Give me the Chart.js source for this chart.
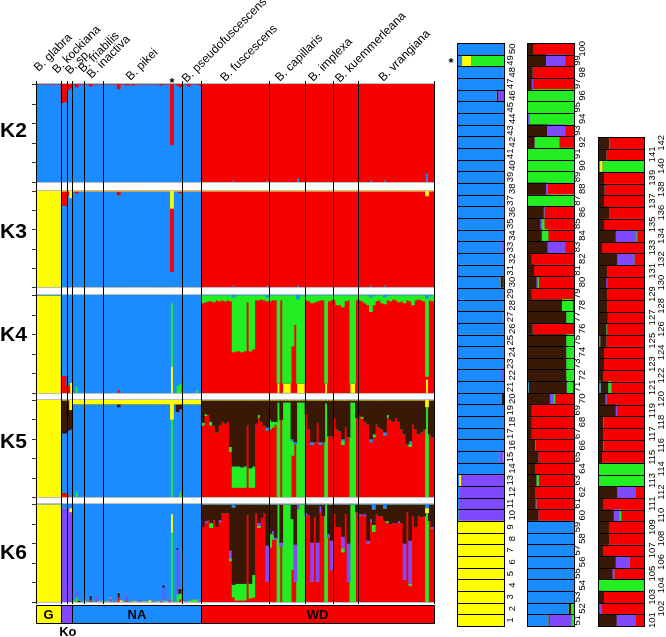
<!DOCTYPE html>
<html>
<head>
<meta charset="utf-8">
<title>STRUCTURE plot K2-K6</title>
<script src="https://cdn.jsdelivr.net/npm/chart.js@4.4.1/dist/chart.umd.min.js"></script>
<style>
html,body{margin:0;padding:0;background:#fff;}
body{width:666px;height:637px;position:relative;overflow:hidden;}
canvas{position:absolute;}
</style>
</head>
<body>
<canvas id="cK2" width="440" height="186" style="left:0;top:0"></canvas>
<canvas id="cK3" width="440" height="105" style="left:0;top:186px"></canvas>
<canvas id="cK4" width="440" height="105" style="left:0;top:291px"></canvas>
<canvas id="cK5" width="440" height="104" style="left:0;top:396px"></canvas>
<canvas id="cK6" width="440" height="104" style="left:0;top:500px"></canvas>
<canvas id="cG" width="440" height="33" style="left:0;top:604px"></canvas>
<canvas id="cR1" width="87" height="637" style="left:440px;top:0"></canvas>
<canvas id="cR2" width="76" height="637" style="left:520px;top:0"></canvas>
<canvas id="cR3" width="76" height="637" style="left:590px;top:0"></canvas>
<script>
// ---------------- DATA ----------------
const speciesNames = ['B. glabra','B. kockiana','B. sp.','B. friabilis','B. inactiva','B. pikei','B. pseudofuscescens','B. fuscescens','B. capillaris','B. implexa','B. kuemmerleana','B. vrangiana'];
const speciesSizes = [9,2,2,4,7,28,7,24,13,10,9,27];
const regionNames = ['G','Ko','NA','WD'];
const regionSizes = [9,4,46,83];
const individuals = [];
for (let i = 1; i <= 142; i++) individuals.push(String(i));

// K2 (top -> bottom: red, blue)
const k2Red = [
 0,0,0,0,0,0,0,0,0,
 .19,.18,.06,.04,
 0,.03,0,0,0,0,.02,0,0,0,0,
 0,0,0,0,0,.05,0,0,.01,0,.01,0,0,0,0,0,0,0,0,0,.01,0,0,0,.62,0,.01,.03,
 0,0,.02,0,0,0,.01,
 1,1,1,1,1,1,1,1,1,1,1,.98,1,1,1,1,1,1,1,1,1,1,1,.98,
 1,1,1,1,1,1,1,1,1,1,.96,1,1,
 1,1,1,1,1,1,1,.99,1,1,
 1,1,1,1,1,1,1,1,1,
 1,1,1,1,.98,1,1,1,1,.98,1,1,1,1,1,1,1,1,1,1,1,1,1,1,.91,1,1
];
const k2Blue = [
 1,1,1,1,1,1,1,1,1,
 .81,.82,.94,.96,
 1,.97,1,1,1,1,.98,1,1,1,1,
 1,1,1,1,1,.95,1,1,.99,1,.99,1,1,1,1,1,1,1,1,1,.99,1,1,1,.38,1,.99,.97,
 1,1,.98,1,1,1,.99,
 0,0,0,0,0,0,0,0,0,0,0,.02,0,0,0,0,0,0,0,0,0,0,0,.02,
 0,0,0,0,0,0,0,0,0,0,.04,0,0,
 0,0,0,0,0,0,0,.01,0,0,
 0,0,0,0,0,0,0,0,0,
 0,0,0,0,.02,0,0,0,0,.02,0,0,0,0,0,0,0,0,0,0,0,0,0,0,.09,0,0
];

// K3 (yellow, red, blue)
const k3Yellow = [
 1,1,1,1,1,1,1,1,1,
 0,0,0,.07,
 0,0,0,0,0,0,0,0,0,0,0,
 0,0,0,0,0,0,0,0,0,0,0,0,0,0,0,0,0,0,0,0,0,0,0,0,.18,0,0,0,
 0,0,0,0,0,0,0,
 0,0,0,0,0,0,0,0,0,0,0,0,0,0,0,0,0,0,0,0,0,0,0,0,
 0,0,0,0,0,0,0,0,0,0,0,0,0,
 0,0,0,0,0,0,0,0,0,0,
 0,0,0,0,0,0,0,0,0,
 0,0,0,0,0,0,0,0,0,0,0,0,0,0,0,0,0,0,0,0,0,0,0,0,.05,0,0
];
const k3Red = [
 0,0,0,0,0,0,0,0,0,
 .15,.15,.04,0,
 0,.02,0,0,0,0,0,0,0,0,0,
 0,0,0,0,0,.04,0,0,0,0,0,0,0,0,0,0,0,0,0,0,0,0,0,0,.66,0,0,.02,
 0,0,0,0,0,0,0,
 1,1,1,1,1,1,1,1,1,1,1,.98,1,1,1,1,1,1,1,1,1,1,1,.98,
 1,1,1,1,1,1,1,1,1,1,.98,1,1,
 1,1,1,1,1,1,1,1,1,1,
 1,1,1,1,1,1,1,1,1,
 1,1,1,1,.98,1,1,1,1,.98,1,1,1,1,1,1,1,1,1,1,1,1,1,1,.95,1,1
];
const k3Blue = [
 0,0,0,0,0,0,0,0,0,
 .85,.85,.96,.93,
 1,.98,1,1,1,1,1,1,1,1,1,
 1,1,1,1,1,.96,1,1,1,1,1,1,1,1,1,1,1,1,1,1,1,1,1,1,.16,1,1,.98,
 1,1,1,1,1,1,1,
 0,0,0,0,0,0,0,0,0,0,0,.02,0,0,0,0,0,0,0,0,0,0,0,.02,
 0,0,0,0,0,0,0,0,0,0,.02,0,0,
 0,0,0,0,0,0,0,0,0,0,
 0,0,0,0,0,0,0,0,0,
 0,0,0,0,.02,0,0,0,0,.02,0,0,0,0,0,0,0,0,0,0,0,0,0,0,0,0,0
];

// K4 (blue, green, red, yellow)
const k4Blue = [
 0,0,0,0,0,0,0,0,0,
 .82,.82,.92,.89,
 1,.93,1,1,1,1,1,1,1,1,1,
 1,1,1,1,1,.96,1,1,1,1,1,1,1,1,1,1,1,1,1,1,1,1,1,1,.08,1,.92,.9,
 1,1,1,1,1,.97,1,
 0,0,0,0,0,0,0,0,0,0,0,.02,0,0,0,0,0,0,0,0,0,0,0,.02,
 0,0,0,0,0,0,0,0,0,0,.04,0,0,
 0,0,0,0,0,0,0,0,0,0,
 0,0,0,0,0,0,0,0,0,
 0,0,0,0,.02,0,0,0,0,.02,0,0,0,0,0,0,0,0,0,0,0,0,0,0,.03,0,0
];
const k4Green = [
 0,0,0,0,0,0,0,0,0,
 0,0,0,0,
 0,.07,0,0,0,0,0,0,0,0,0,
 0,0,0,0,0,0,0,0,0,0,0,0,0,0,0,0,0,0,0,0,0,0,0,0,.65,0,.08,.1,
 0,0,0,0,0,.03,0,
 .08,.07,.06,.06,.07,.05,.06,.05,.06,.05,.06,.56,.57,.57,.58,.57,.07,.57,.55,.05,.05,.04,.05,.04,
 .06,.05,.05,.9,.05,.9,.9,.9,.52,.3,.86,.9,.9,
 .05,.06,.08,.07,.06,.05,.05,.9,.06,.05,
 .05,.1,.1,.12,.06,.05,.9,.9,.05,
 .05,.06,.08,.1,.15,.1,.06,.05,.08,.07,.05,.06,.04,.05,.07,.06,.08,.05,.06,.1,.05,.04,.05,.06,.8,.05,.06
];
const k4Red = [
 0,0,0,0,0,0,0,0,0,
 .18,.18,.08,0,
 0,0,0,0,0,0,0,0,0,0,0,
 0,0,0,0,0,.04,0,0,0,0,0,0,0,0,0,0,0,0,0,0,0,0,0,0,0,0,0,0,
 0,0,0,0,0,0,0,
 .92,.93,.94,.94,.93,.95,.94,.95,.94,.95,.94,.42,.43,.43,.42,.43,.93,.43,.45,.95,.95,.96,.95,.94,
 .94,.95,.95,0,.95,0,0,0,.48,.7,0,0,0,
 .95,.94,.92,.93,.94,.95,.95,0,.94,.95,
 .95,.9,.9,.88,.94,.95,0,0,.95,
 .95,.94,.92,.9,.83,.9,.94,.95,.92,.91,.95,.94,.96,.95,.93,.94,.92,.95,.94,.9,.95,.96,.95,.94,.03,.95,.94
];
const k4Yellow = [
 1,1,1,1,1,1,1,1,1,
 0,0,0,.11,
 0,0,0,0,0,0,0,0,0,0,0,
 0,0,0,0,0,0,0,0,0,0,0,0,0,0,0,0,0,0,0,0,0,0,0,0,.27,0,0,0,
 0,0,0,0,0,0,0,
 0,0,0,0,0,0,0,0,0,0,0,0,0,0,0,0,0,0,0,0,0,0,0,0,
 0,0,0,.1,0,.1,.1,.1,0,0,.1,.1,.1,
 0,0,0,0,0,0,0,.1,0,0,
 0,0,0,0,0,0,.1,.1,0,
 0,0,0,0,0,0,0,0,0,0,0,0,0,0,0,0,0,0,0,0,0,0,0,0,.14,0,0
];

// K5 (yellow, brown, blue, green, red)
const k5Yellow = [
 1,1,1,1,1,1,1,1,1,
 0,0,0,.1,
 .04,.04,.04,.04,.04,.04,.04,.04,.04,.04,.04,
 .04,.04,.04,.04,.04,.04,.04,.04,.04,.04,.04,.04,.04,.04,.04,.04,.04,.04,.04,.04,.04,.04,.04,.04,.2,.04,.04,.04,
 .04,.04,.04,.04,.04,.04,.04,
 0,0,0,0,0,0,0,0,0,0,0,0,0,0,0,0,0,0,0,0,0,0,0,0,
 0,0,0,0,0,0,0,0,0,0,0,0,0,
 0,0,0,0,0,0,0,0,0,0,
 0,0,0,0,0,0,0,0,0,
 0,0,0,0,0,0,0,0,0,0,0,0,0,0,0,0,0,0,0,0,0,0,0,0,.07,0,0
];
const k5Brown = [
 0,0,0,0,0,0,0,0,0,
 .34,.34,.31,.2,
 0,0,0,0,0,0,0,0,0,0,0,
 0,0,0,0,0,.03,0,0,0,0,0,0,0,0,0,0,0,0,0,0,0,0,0,0,0,0,.08,.05,
 0,0,0,0,0,0,0,
 .23,.14,.15,.22,.26,.33,.26,.22,.24,.22,.48,.68,.68,.68,.69,.68,.26,.7,.68,.24,.15,.22,.26,.28,
 .2,.22,.22,.02,.2,.02,.02,.02,.4,.43,.02,.02,.02,
 .14,.3,.43,.43,.23,.43,.43,.03,.37,.37,
 .18,.3,.32,.4,.28,.38,.02,.02,.18,
 .15,.17,.22,.25,.4,.35,.25,.28,.3,.33,.15,.2,.22,.18,.22,.3,.35,.45,.42,.25,.3,.35,.33,.3,0,.35,.38
];
const k5Blue = [
 0,0,0,0,0,0,0,0,0,
 .61,.61,.66,.7,
 .96,.9,.96,.96,.96,.96,.96,.96,.96,.96,.96,
 .96,.96,.96,.96,.96,.93,.96,.96,.96,.96,.96,.96,.96,.96,.96,.96,.96,.96,.96,.96,.96,.96,.96,.96,0,.96,.88,.86,
 .96,.96,.96,.96,.96,.96,.96,
 0,0,0,0,0,0,0,0,0,0,0,0,0,0,0,0,0,0,0,0,0,0,0,.03,
 0,0,0,0,0,0,0,0,.02,.02,0,0,0,
 0,0,.03,0,0,.03,0,0,0,0,
 0,0,0,.02,0,0,0,0,0,
 0,0,0,0,.03,0,0,0,0,.03,0,0,0,0,0,0,0,0,.03,0,0,0,0,0,0,0,0
];
const k5Green = [
 0,0,0,0,0,0,0,0,0,
 0,0,0,0,
 0,.06,0,0,0,0,0,0,0,0,0,
 0,0,0,0,0,0,0,0,0,0,0,0,0,0,0,0,0,0,0,0,0,0,0,0,.8,0,0,.05,
 0,0,0,0,0,0,0,
 .03,.02,0,.04,0,0,0,0,0,0,.05,.22,.22,.22,.21,.22,0,.2,.22,0,.03,0,0,0,
 .1,.06,.03,.98,0,.98,.98,.98,.15,0,.98,.98,.98,
 0,0,0,0,0,0,0,.97,0,0,
 0,0,0,.04,0,0,.98,.98,0,
 0,.02,0,0,0,.03,0,0,0,0,.03,0,0,0,0,0,0,0,.03,0,0,0,0,0,.93,0,0
];
const k5Red = [
 0,0,0,0,0,0,0,0,0,
 .05,.05,.03,0,
 0,0,0,0,0,0,0,0,0,0,0,
 0,0,0,0,0,0,0,0,0,0,0,0,0,0,0,0,0,0,0,0,0,0,0,0,0,0,0,0,
 0,0,0,0,0,0,0,
 .74,.84,.85,.74,.74,.67,.74,.78,.76,.78,.47,.1,.1,.1,.1,.1,.74,.1,.1,.76,.82,.78,.74,.69,
 .7,.72,.75,0,.8,0,0,0,.43,.55,0,0,0,
 .86,.7,.54,.57,.77,.54,.57,0,.63,.63,
 .82,.7,.68,.54,.72,.62,0,0,.82,
 .85,.81,.78,.75,.57,.62,.75,.72,.7,.64,.82,.8,.78,.82,.78,.7,.65,.55,.52,.75,.7,.65,.67,.7,0,.65,.62
];

// K6 (blue, yellow, brown, purple, green, red) - also shown in the right panel
const k6Blue = [
 0,0,0,0,0,0,0,0,0,
 .03,.04,.04,.04,
 .98,.88,.98,.99,.99,.99,.93,.99,.93,.99,.98,
 .99,.99,.95,.99,.98,.9,.98,.99,.92,.99,.98,.99,.96,.99,.99,.99,.98,.98,.99,.99,.98,.82,.99,.96,.1,.99,.44,.86,
 .99,.99,.99,.97,.97,.97,.98,
 0,0,0,0,0,0,0,0,0,0,0,.03,0,0,0,0,0,0,0,0,0,0,0,0,
 0,0,0,0,0,0,0,0,0,0,0,0,0,
 0,0,0,0,0,0,0,0,0,0,
 0,0,0,0,0,0,0,0,0,
 0,0,0,0,0,.05,0,0,0,.04,0,0,0,0,0,0,0,0,0,0,0,0,0,0,.04,0,0
];
const k6Yellow = [
 1,1,1,1,1,1,1,1,1,
 0,0,0,.04,
 0,0,0,0,.01,0,0,0,0,.01,0,
 0,.01,.01,0,0,0,.02,0,0,0,0,.01,0,0,.01,0,.02,0,0,.01,0,0,.01,0,.19,0,0,0,
 .01,0,.01,0,0,0,0,
 0,0,0,0,0,0,0,0,0,0,0,0,0,0,0,0,0,0,0,0,0,0,0,0,
 0,0,0,0,0,0,0,0,0,0,0,0,0,
 0,0,0,0,0,0,0,0,0,0,
 0,0,0,0,0,0,0,0,0,
 0,0,0,0,0,0,0,0,0,0,0,0,0,0,0,0,0,0,0,0,0,0,0,0,.05,0,0
];
const k6Brown = [
 0,0,0,0,0,0,0,0,0,
 0,0,0,0,
 0,0,.02,0,0,0,.05,0,0,0,0,
 0,0,0,0,0,.05,0,0,0,0,0,0,0,0,0,0,0,0,0,0,0,.03,0,0,0,0,.02,.05,
 0,0,0,0,0,0,0,
 .23,.17,.16,.19,.16,.23,.16,.09,.09,.09,.47,.79,.81,.81,.81,.81,.11,.81,.72,.09,.19,.14,.09,.42,
 .3,.27,.34,0,.39,0,0,0,.15,.41,0,0,0,
 .09,.11,.39,.13,.39,.02,.12,0,.3,.37,
 .1,.23,.23,.33,.1,.4,0,0,.08,
 .1,.1,.1,.37,.15,.16,.1,.12,.12,.13,.17,.2,.19,.19,.17,.19,.4,.08,.37,.12,.23,.12,.13,.12,0,.17,.23
];
const k6Purple = [
 0,0,0,0,0,0,0,0,0,
 .97,.96,.96,.92,
 0,.07,0,.01,0,0,0,.01,.07,0,0,
 .01,0,.04,0,.02,0,0,.01,.06,.01,0,0,.04,0,0,.01,0,.02,0,0,.02,.13,0,.04,0,.01,.46,0,
 0,.01,0,0,0,0,.02,
 0,.02,0,0,0,0,.02,0,0,0,.08,0,0,0,0,0,0,0,0,0,.03,0,0,.37,
 0,.04,.02,0,.04,0,0,0,0,.38,.05,0,0,
 .03,0,.4,0,.4,.06,0,0,.04,.3,
 0,0,0,.12,0,.39,0,0,0,
 .02,0,.02,.03,.03,0,0,0,0,0,0,0,0,0,.02,0,.37,0,.44,0,0,0,0,0,0,0,.02
];
const k6Green = [
 0,0,0,0,0,0,0,0,0,
 0,0,0,0,
 .02,.05,0,0,0,.01,0,0,0,0,.02,
 0,0,0,.01,0,0,0,0,0,0,.02,0,0,.01,0,0,0,0,.01,0,0,.02,0,0,.71,0,.08,.06,
 0,0,0,.03,.03,.03,0,
 0,0,0,.05,0,0,0,0,0,0,.03,.13,.17,.17,.17,.17,0,.15,.23,0,.02,0,0,0,
 .14,.05,0,1,0,1,1,1,.52,0,.95,1,1,
 0,0,0,0,0,0,0,1,0,0,
 0,0,0,.04,0,0,1,1,0,
 0,0,0,0,0,.07,0,0,0,0,.02,0,0,0,0,0,0,0,.02,0,0,0,0,0,.91,0,0
];
const k6Red = [
 0,0,0,0,0,0,0,0,0,
 0,0,0,0,
 0,0,0,0,0,0,.02,0,0,0,0,
 0,0,0,0,0,.05,0,0,.02,0,0,0,0,0,0,0,0,0,0,0,0,0,0,0,0,0,0,.03,
 0,0,0,0,0,0,0,
 .77,.81,.84,.76,.84,.77,.82,.91,.91,.91,.42,.05,.02,.02,.02,.02,.89,.04,.05,.91,.76,.86,.91,.21,
 .56,.64,.64,0,.57,0,0,0,.33,.21,0,0,0,
 .88,.89,.21,.87,.21,.92,.88,0,.66,.33,
 .9,.77,.77,.51,.9,.21,0,0,.92,
 .88,.9,.88,.6,.82,.72,.9,.88,.88,.83,.81,.8,.81,.81,.81,.81,.23,.92,.17,.88,.77,.88,.87,.88,0,.83,.75
];

// ---------------- STYLE / LAYOUT ----------------
const COL = {blue:'#1a8cff', yellow:'#ffff00', red:'#f70000', green:'#22ee22', brown:'#3a1806', purple:'#8048ff'};
const FONT = '"Liberation Sans", Arial, Helvetica, sans-serif';
const regionColors = ['yellow','purple','blue','red'];

const kRows = [
 {name:'K2', canvas:'cK2', pad:[84,4], labelY:131, series:[[k2Red,'red'],[k2Blue,'blue']]},
 {name:'K3', canvas:'cK3', pad:[5,4], labelY:46, series:[[k3Yellow,'yellow'],[k3Red,'red'],[k3Blue,'blue']]},
 {name:'K4', canvas:'cK4', pad:[4,3], labelY:44, series:[[k4Blue,'blue'],[k4Green,'green'],[k4Red,'red'],[k4Yellow,'yellow']]},
 {name:'K5', canvas:'cK5', pad:[4,3], labelY:46, series:[[k5Yellow,'yellow'],[k5Brown,'brown'],[k5Blue,'blue'],[k5Green,'green'],[k5Red,'red']]},
 {name:'K6', canvas:'cK6', pad:[4,2], labelY:53, series:[[k6Blue,'blue'],[k6Yellow,'yellow'],[k6Brown,'brown'],[k6Purple,'purple'],[k6Green,'green'],[k6Red,'red']]}
];
// label anchor offsets (dx from group centre, baseline y) for the rotated species names
const speciesAnchor = [[-10,72],[-7,74],[0,75],[5,73],[-2,79],[-12,81],[-5,83],[-10,82],[-7,82],[-6,82],[-6,83],[-13,82]];

function cumBounds(sizes){ const b=[0]; let a=0; sizes.forEach(s=>{a+=s;b.push(a);}); return b; }
const speciesBounds = cumBounds(speciesSizes);
const regionBounds = cumBounds(regionSizes);

function rowDecor(row, first){
 return {id:'rowDecor', afterDraw(chart){
  const ctx = chart.ctx, a = chart.chartArea, xs = chart.scales.x, ys = chart.scales.y;
  ctx.save();
  ctx.lineWidth = 1;
  ctx.strokeStyle = '#bdbdbd';
  ctx.beginPath();
  const t = Math.round(a.top)-0.5, bo = Math.round(a.bottom)+0.5;
  ctx.moveTo(a.left,t); ctx.lineTo(a.right,t); ctx.moveTo(a.left,bo); ctx.lineTo(a.right,bo);
  ctx.stroke();
  ctx.strokeStyle = '#000';
  ctx.beginPath();
  const y0 = first ? a.top-3 : 0, y1 = chart.height;
  speciesBounds.forEach(b=>{ const px = Math.round(xs.getPixelForValue(b-0.5))+0.5; ctx.moveTo(px,y0); ctx.lineTo(px,y1); });
  ctx.stroke();
  ctx.strokeStyle = '#333';
  ctx.beginPath();
  [0,0.2,0.4,0.6,0.8,1].forEach(v=>{ const py = Math.round(ys.getPixelForValue(v))+0.5; ctx.moveTo(a.left-4,py); ctx.lineTo(a.left,py); });
  ctx.stroke();
  ctx.fillStyle = '#000';
  ctx.font = 'bold 21px '+FONT; ctx.textAlign='left'; ctx.textBaseline='middle';
  ctx.fillText(row.name, 0, row.labelY);
  if (first){
   ctx.font = '12px '+FONT; ctx.textBaseline='alphabetic';
   speciesNames.forEach((nm,i)=>{
    const c = xs.getPixelForValue((speciesBounds[i]+speciesBounds[i+1])/2 - 0.5);
    const an = speciesAnchor[i];
    ctx.save(); ctx.translate(c+an[0], an[1]); ctx.rotate(-Math.PI/4); ctx.fillText(nm,0,0); ctx.restore();
   });
   ctx.font = 'bold 13px '+FONT; ctx.textAlign='center';
   ctx.fillText('*', xs.getPixelForValue(48), 87);
  }
  ctx.restore();
 }};
}

kRows.forEach((row, ri)=>{
 new Chart(document.getElementById(row.canvas), {
  type:'bar',
  data:{labels:individuals, datasets: row.series.map(([vals,c])=>({label:c, data:vals, backgroundColor:COL[c], borderWidth:0, barPercentage:1, categoryPercentage:1, inflateAmount:0.45, stack:'q'}))},
  options:{responsive:false, animation:false, devicePixelRatio:1, events:[],
   layout:{autoPadding:false, padding:{left:36,right:6,top:row.pad[0],bottom:row.pad[1]}},
   plugins:{legend:{display:false}, tooltip:{enabled:false}, title:{display:false}},
   scales:{x:{display:false, stacked:true}, y:{display:false, stacked:true, min:0, max:1, reverse:true}}},
  plugins:[rowDecor(row, ri===0)]
 });
});

// group (region) bar
new Chart(document.getElementById('cG'), {
 type:'bar',
 data:{labels:['region'], datasets: regionNames.map((n,i)=>({label:n, data:[regionSizes[i]], backgroundColor:COL[regionColors[i]], borderWidth:0, barPercentage:1, categoryPercentage:1, stack:'g'}))},
 options:{indexAxis:'y', responsive:false, animation:false, devicePixelRatio:1, events:[],
  layout:{autoPadding:false, padding:{left:36,right:6,top:1,bottom:13}},
  plugins:{legend:{display:false}, tooltip:{enabled:false}},
  scales:{x:{display:false, stacked:true, min:0, max:142}, y:{display:false, stacked:true}}},
 plugins:[{id:'groupDecor', afterDraw(chart){
  const ctx = chart.ctx, a = chart.chartArea, xs = chart.scales.x;
  ctx.save(); ctx.strokeStyle='#000'; ctx.lineWidth=1;
  const L=Math.round(a.left)+0.5, R=Math.round(a.right)+0.5, T=Math.round(a.top)+0.5, B=Math.round(a.bottom)-0.5;
  ctx.beginPath();
  ctx.moveTo(L,T); ctx.lineTo(R,T); ctx.lineTo(R,B); ctx.lineTo(L,B); ctx.closePath();
  regionBounds.slice(1,-1).forEach(b=>{ const px=Math.round(xs.getPixelForValue(b))+0.5; ctx.moveTo(px,T); ctx.lineTo(px,B); });
  ctx.stroke();
  ctx.fillStyle='#000'; ctx.font='bold 13px '+FONT; ctx.textAlign='center'; ctx.textBaseline='middle';
  regionNames.forEach((n,i)=>{
   const cx = xs.getPixelForValue(regionBounds[i] + regionSizes[i]/2);
   if (n==='Ko') ctx.fillText(n, cx+1, a.bottom+8.5);
   else ctx.fillText(n, cx, (a.top+a.bottom)/2+0.5);
  });
  ctx.restore();
 }}]
});

// right panel: K6 per individual, horizontal bars
const k6Series = [[k6Blue,'blue'],[k6Yellow,'yellow'],[k6Brown,'brown'],[k6Purple,'purple'],[k6Green,'green'],[k6Red,'red']];
const cols = [
 {canvas:'cR1', from:0, to:50, pad:{left:17,right:22,top:43,bottom:11}, oddX:70, evenX:72, star:48},
 {canvas:'cR2', from:50, to:100, pad:{left:7,right:21,top:43,bottom:11}, oddX:57.5, evenX:62.5, star:null},
 {canvas:'cR3', from:100, to:142, pad:{left:8,right:21,top:137,bottom:11}, oddX:62, evenX:71.5, star:null}
];
function colDecor(col){
 return {id:'colDecor', afterDraw(chart){
  const ctx = chart.ctx, a = chart.chartArea, ys = chart.scales.y, labels = chart.data.labels;
  ctx.save(); ctx.strokeStyle='#000'; ctx.lineWidth=1;
  const L = Math.round(a.left)+0.5, R = Math.round(a.right)-0.5;
  ctx.beginPath();
  for (let b=0; b<=labels.length; b++){ const py = Math.round(ys.getPixelForValue(b-0.5))+0.5; ctx.moveTo(L-0.5,py); ctx.lineTo(R+0.5,py); }
  ctx.moveTo(L,a.top); ctx.lineTo(L,a.bottom); ctx.moveTo(R,a.top); ctx.lineTo(R,a.bottom);
  ctx.stroke();
  ctx.fillStyle='#000'; ctx.font='9.5px '+FONT; ctx.textAlign='center'; ctx.textBaseline='middle';
  labels.forEach((lab,i)=>{
   const n = parseInt(lab,10);
   const cx = (n%2===1) ? col.oddX : col.evenX;
   const cy = ys.getPixelForValue(i);
   ctx.save(); ctx.translate(cx, cy); ctx.rotate(-Math.PI/2); ctx.fillText(lab,0,0); ctx.restore();
  });
  if (col.star !== null){
   ctx.font='bold 13px '+FONT; ctx.textAlign='center'; ctx.textBaseline='alphabetic';
   ctx.fillText('*', a.left-6, ys.getPixelForValue(col.star)+7);
  }
  ctx.restore();
 }};
}
cols.forEach(col=>{
 new Chart(document.getElementById(col.canvas), {
  type:'bar',
  data:{labels:individuals.slice(col.from,col.to), datasets:k6Series.map(([vals,c])=>({label:c, data:vals.slice(col.from,col.to), backgroundColor:COL[c], borderWidth:0, barPercentage:1, categoryPercentage:1, inflateAmount:0.3, stack:'r'}))},
  options:{indexAxis:'y', responsive:false, animation:false, devicePixelRatio:1, events:[],
   layout:{autoPadding:false, padding:col.pad},
   plugins:{legend:{display:false}, tooltip:{enabled:false}},
   scales:{x:{display:false, stacked:true, min:0, max:1}, y:{display:false, stacked:true, reverse:true}}},
  plugins:[colDecor(col)]
 });
});

// sanity check of the data tables
const problems = [];
kRows.forEach(r=>{
 r.series.forEach(([v,c])=>{ if (v.length!==142) problems.push(r.name+' '+c+' length '+v.length); });
 for (let i=0;i<142;i++){ let s=0; r.series.forEach(([v])=>{ s += v[i]||0; }); if (Math.abs(s-1)>0.005) problems.push(r.name+' #'+(i+1)+' sum '+s.toFixed(3)); }
});
if (problems.length) setTimeout(()=>{ throw new Error(problems.join('; ')); }, 0);
</script>
</body>
</html>
